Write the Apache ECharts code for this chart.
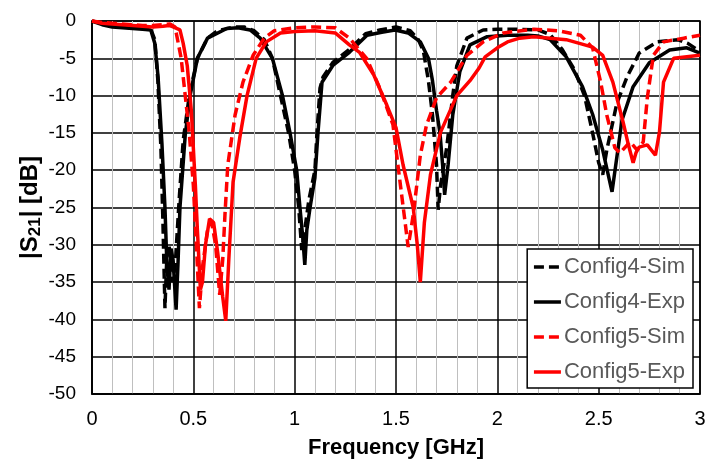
<!DOCTYPE html>
<html>
<head>
<meta charset="utf-8">
<script src="https://cdn.jsdelivr.net/npm/echarts@6/dist/echarts.min.js"></script>
<style>html,body{margin:0;padding:0;background:#fff}#c{width:718px;height:469px}</style>
</head>
<body>
<div id="c"></div>
<script>
var xTicks = ['0','0.5','1','1.5','2','2.5','3'];
var seriesNames = ['Config4-Sim','Config4-Exp','Config5-Sim','Config5-Exp'];

var c4SimF = [0,0.05,0.1,0.15,0.2,0.25,0.29,0.31,0.325,0.34,0.35,0.36,0.37,0.38,0.395,0.41,0.43,0.45,0.48,0.52,0.57,0.62,0.7,0.75,0.8,0.85,0.89,0.93,0.97,1.0,1.02,1.035,1.05,1.07,1.1,1.11,1.125,1.14,1.19,1.27,1.35,1.42,1.5,1.57,1.61,1.635,1.66,1.68,1.70,1.708,1.72,1.75,1.78,1.80,1.85,1.93,2.0,2.1,2.2,2.26,2.32,2.38,2.43,2.47,2.50,2.52,2.54,2.59,2.64,2.70,2.79,2.89,2.94,3.0];
var c4SimDb = [0,-0.3,-0.6,-0.8,-0.9,-1.0,-1.1,-2.5,-8,-17,-27,-38.5,-31,-30,-35,-33,-24,-16,-10,-5,-2.3,-1.3,-0.8,-0.8,-1.3,-2.5,-5,-10,-15,-20,-25,-30.7,-28,-24,-20,-15,-9,-7.5,-5.5,-3.8,-1.7,-1.2,-0.8,-1.3,-2.5,-4,-8,-12.6,-19.3,-25.3,-22,-17,-10,-6,-2.3,-1.2,-1.1,-1.1,-1.2,-1.8,-3.8,-6.5,-10,-15,-19,-20.6,-17.3,-11,-7.5,-4.3,-2.8,-2.5,-3,-4.1];

var c4ExpF = [0,0.05,0.1,0.15,0.2,0.25,0.29,0.31,0.326,0.345,0.36,0.37,0.38,0.39,0.40,0.415,0.425,0.434,0.46,0.484,0.52,0.57,0.665,0.72,0.78,0.83,0.89,0.94,0.977,1.01,1.026,1.04,1.05,1.06,1.076,1.1,1.115,1.135,1.19,1.27,1.357,1.43,1.495,1.56,1.62,1.66,1.68,1.70,1.717,1.73,1.74,1.757,1.78,1.815,1.865,1.95,2.05,2.15,2.2,2.26,2.34,2.42,2.47,2.52,2.566,2.615,2.67,2.75,2.85,2.935,3.0];
var c4ExpDb = [0,-0.5,-0.8,-0.9,-1.0,-1.1,-1.2,-3,-7.5,-16.4,-25,-33,-36,-30.5,-32,-38.7,-32,-25,-15.3,-10,-5,-2.3,-1.0,-0.9,-1.2,-2.3,-5,-10,-15,-20,-25,-29,-32.7,-28,-25,-21,-15,-8.2,-5.9,-4.2,-1.9,-1.5,-1.2,-1.6,-2.8,-5,-8,-12,-15,-19.3,-23.3,-19.3,-12.6,-6.8,-3.2,-2.1,-1.9,-1.9,-2.0,-2.5,-4.8,-8.8,-12.5,-17.3,-22.9,-13.3,-8.8,-5.6,-3.9,-3.6,-4.3];

var c5SimF = [0,0.05,0.1,0.15,0.2,0.25,0.3,0.35,0.385,0.41,0.44,0.46,0.48,0.5,0.515,0.53,0.545,0.57,0.59,0.61,0.63,0.645,0.656,0.67,0.706,0.745,0.795,0.85,0.9,1.0,1.1,1.2,1.27,1.355,1.42,1.485,1.52,1.545,1.56,1.585,1.62,1.65,1.70,1.77,1.85,1.93,2.03,2.18,2.3,2.41,2.47,2.51,2.54,2.58,2.605,2.655,2.69,2.72,2.74,2.77,2.82,2.92,3.0];
var c5SimDb = [0,-0.2,-0.3,-0.4,-0.5,-0.6,-0.6,-0.5,-0.4,-0.8,-5,-10,-15,-22,-30,-38.5,-33,-28,-27,-30,-36.7,-32,-26,-19.3,-12.6,-8.2,-4.6,-2.3,-1.3,-0.9,-0.8,-0.9,-2.3,-5,-9,-13.9,-21.6,-27,-30.3,-26,-18,-14,-10.3,-8.2,-4.6,-2.8,-1.6,-1.1,-1.3,-1.9,-3.6,-8.2,-12.6,-17,-17.7,-16.2,-17.3,-16.2,-10.3,-4.6,-2.8,-2.3,-1.9];

var c5ExpF = [0,0.05,0.1,0.15,0.2,0.25,0.3,0.35,0.38,0.40,0.434,0.45,0.47,0.49,0.51,0.52,0.535,0.545,0.56,0.58,0.6,0.62,0.645,0.66,0.675,0.696,0.73,0.765,0.81,0.86,0.93,1.0,1.1,1.2,1.27,1.32,1.39,1.455,1.5,1.535,1.585,1.605,1.62,1.64,1.67,1.72,1.80,1.865,1.91,1.94,2.0,2.05,2.11,2.18,2.34,2.47,2.52,2.57,2.62,2.645,2.67,2.685,2.70,2.74,2.78,2.80,2.82,2.87,2.935,3.0];
var c5ExpDb = [0,-0.3,-0.4,-0.5,-0.6,-0.7,-0.8,-0.7,-0.6,-0.8,-1.2,-3,-6,-12,-22,-28,-36,-35,-30,-26.5,-27,-31,-37,-40.2,-32,-21.6,-15.5,-10,-5,-2.8,-1.6,-1.4,-1.3,-1.6,-3.2,-4.2,-7.2,-11.3,-14.3,-19.3,-25,-30,-35,-27,-20.6,-14.9,-10,-8,-6.3,-4.8,-3.6,-2.8,-2.3,-2.1,-2.5,-3.5,-4.6,-8.2,-13.5,-16.4,-19,-17.6,-16.9,-16.6,-18,-14.9,-8.2,-5,-4.8,-4.6];

function zip(f, d) { return f.map(function (v, i) { return [v, d[i]]; }); }

var chart = echarts.init(document.getElementById('c'));
var FONT = 'Liberation Sans';
function mk(name, data, color, dashed) {
  return {
    name: name, type: 'line', data: data, symbol: 'none', smooth: false,
    lineStyle: { color: color, width: 3.5, type: dashed ? [10, 5] : 'solid' },
    itemStyle: { color: color },
    animation: false
  };
}
chart.setOption({
  animation: false,
  backgroundColor: '#fff',
  grid: { left: 92, right: 18, top: 21, bottom: 75, show: true, borderColor: '#000', borderWidth: 1.5 },
  xAxis: {
    type: 'value', min: 0, max: 3, interval: 0.5,
    name: 'Frequency [GHz]', nameLocation: 'middle', nameGap: 43, nameMoveOverlap: false,
    nameTextStyle: { fontFamily: FONT, fontSize: 22, fontWeight: 'bold', color: '#000' },
    axisLine: { show: true, onZero: false, lineStyle: { color: '#000', width: 1.5 } },
    axisTick: { show: false },
    axisLabel: { fontFamily: FONT, fontSize: 20, color: '#000', margin: 15,
      formatter: function (v) { var i = Math.round(v / 0.5); return xTicks[i] !== undefined ? xTicks[i] : ''; } },
    splitLine: { show: true, lineStyle: { color: '#000', width: 1.5 } },
    minorTick: { show: false, splitNumber: 5 },
    minorSplitLine: { show: true, lineStyle: { color: '#bfbfbf', width: 1 } }
  },
  yAxis: {
    type: 'value', min: -50, max: 0, interval: 5,
    name: '|S{sub|21}| [dB]', nameLocation: 'middle', nameGap: 48, nameRotate: 90, nameMoveOverlap: false,
    nameTextStyle: { fontFamily: FONT, fontSize: 24, fontWeight: 'bold', color: '#000',
      rich: { sub: { fontFamily: FONT, fontSize: 17, fontWeight: 'bold', color: '#000', verticalAlign: 'bottom', padding: [11, 0, 0, 0] } } },
    axisLine: { show: true, onZero: false, lineStyle: { color: '#000', width: 1.5 } },
    axisTick: { show: false },
    axisLabel: { fontFamily: FONT, fontSize: 19, color: '#000', margin: 16 },
    splitLine: { show: true, lineStyle: { color: '#000', width: 1.5 } }
  },
  legend: {
    orient: 'vertical', right: 25, top: 249,
    data: seriesNames,
    backgroundColor: '#fff', borderColor: '#000', borderWidth: 1.5,
    padding: [5, 8, 3, 5], itemGap: 9, itemWidth: 27, itemHeight: 14,
    itemStyle: { opacity: 0 },
    lineStyle: { width: 3.5 },
    textStyle: { fontFamily: FONT, fontSize: 22, lineHeight: 26, color: '#595959', padding: [0, 0, 0, -2] }
  },
  series: [
    mk(seriesNames[0], zip(c4SimF, c4SimDb), '#000', true),
    mk(seriesNames[1], zip(c4ExpF, c4ExpDb), '#000', false),
    mk(seriesNames[2], zip(c5SimF, c5SimDb), '#ff0000', true),
    mk(seriesNames[3], zip(c5ExpF, c5ExpDb), '#ff0000', false)
  ]
});
</script>
</body>
</html>
